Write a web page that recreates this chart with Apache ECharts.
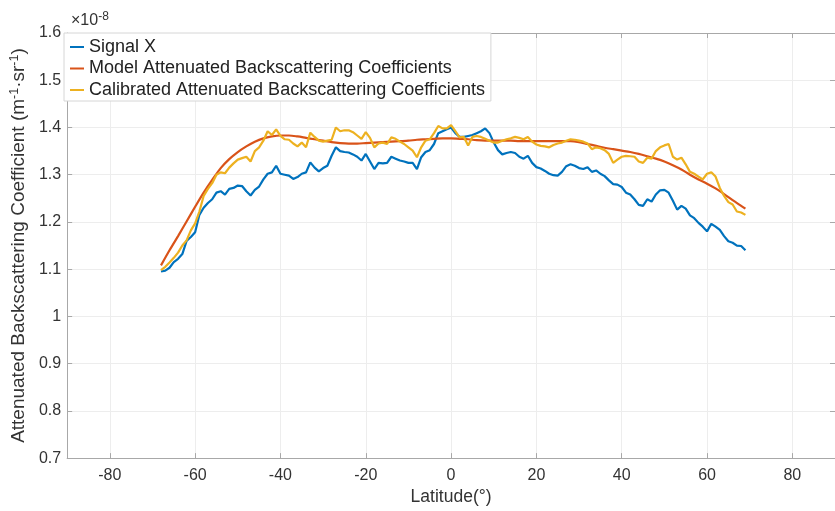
<!DOCTYPE html>
<html><head><meta charset="utf-8">
<script src="https://cdn.jsdelivr.net/npm/echarts@6/dist/echarts.min.js"></script>
<style>html,body{margin:0;padding:0;background:#fff}#c{width:835px;height:511px}</style>
</head><body><div id="c"></div>
<script>
const latitudes = [-68,-67,-66,-65,-64,-63,-62,-61,-60,-59,-58,-57,-56,-55,-54,-53,-52,-51,-50,-49,-48,-47,-46,-45,-44,-43,-42,-41,-40,-39,-38,-37,-36,-35,-34,-33,-32,-31,-30,-29,-28,-27,-26,-25,-24,-23,-22,-21,-20,-19,-18,-17,-16,-15,-14,-13,-12,-11,-10,-9,-8,-7,-6,-5,-4,-3,-2,-1,0,1,2,3,4,5,6,7,8,9,10,11,12,13,14,15,16,17,18,19,20,21,22,23,24,25,26,27,28,29,30,31,32,33,34,35,36,37,38,39,40,41,42,43,44,45,46,47,48,49,50,51,52,53,54,55,56,57,58,59,60,61,62,63,64,65,66,67,68,69];
const signalX = [1.095,1.097,1.103,1.115,1.122,1.132,1.160,1.168,1.178,1.215,1.230,1.240,1.248,1.262,1.265,1.258,1.270,1.272,1.277,1.276,1.265,1.256,1.268,1.275,1.290,1.302,1.305,1.319,1.302,1.300,1.298,1.291,1.295,1.302,1.305,1.326,1.315,1.307,1.314,1.319,1.340,1.358,1.350,1.348,1.347,1.343,1.338,1.330,1.344,1.328,1.312,1.325,1.324,1.325,1.338,1.334,1.330,1.328,1.325,1.325,1.312,1.337,1.348,1.352,1.365,1.388,1.392,1.396,1.400,1.388,1.380,1.380,1.382,1.384,1.388,1.392,1.398,1.388,1.368,1.352,1.343,1.346,1.348,1.346,1.338,1.334,1.340,1.325,1.316,1.313,1.308,1.302,1.299,1.298,1.306,1.318,1.322,1.319,1.314,1.312,1.316,1.306,1.309,1.302,1.297,1.288,1.280,1.279,1.274,1.262,1.258,1.248,1.236,1.234,1.248,1.243,1.258,1.267,1.268,1.262,1.245,1.226,1.234,1.228,1.214,1.208,1.198,1.190,1.180,1.196,1.190,1.183,1.170,1.159,1.156,1.150,1.149,1.140];
const calibrated = [1.098,1.105,1.114,1.124,1.135,1.150,1.161,1.182,1.197,1.222,1.255,1.270,1.282,1.300,1.305,1.303,1.315,1.324,1.332,1.335,1.338,1.328,1.350,1.358,1.372,1.392,1.384,1.396,1.382,1.375,1.374,1.366,1.360,1.368,1.358,1.389,1.380,1.372,1.370,1.372,1.374,1.400,1.392,1.394,1.394,1.390,1.383,1.376,1.390,1.378,1.358,1.366,1.368,1.365,1.379,1.376,1.370,1.365,1.358,1.351,1.337,1.358,1.372,1.375,1.388,1.403,1.398,1.398,1.405,1.392,1.379,1.380,1.362,1.380,1.382,1.380,1.376,1.372,1.368,1.368,1.372,1.375,1.377,1.380,1.378,1.375,1.380,1.370,1.364,1.361,1.360,1.358,1.363,1.366,1.368,1.372,1.375,1.374,1.372,1.370,1.366,1.354,1.358,1.356,1.352,1.344,1.325,1.332,1.338,1.340,1.339,1.338,1.328,1.325,1.336,1.334,1.350,1.358,1.362,1.365,1.338,1.332,1.336,1.322,1.306,1.302,1.296,1.290,1.302,1.305,1.296,1.272,1.255,1.242,1.237,1.222,1.220,1.215];
const modelLat = [-68,-66,-64,-62,-60,-58,-56,-54,-52,-50,-48,-46,-44,-42,-40,-38,-36,-34,-32,-30,-28,-26,-24,-22,-20,-18,-16,-14,-12,-10,-8,-6,-4,-2,0,2,4,6,8,10,12,14,16,18,20,22,24,26,28,30,32,34,36,38,40,42,44,46,48,50,52,54,56,58,60,62,64,66,68,69];
const modelVal = [1.108,1.140,1.170,1.201,1.232,1.262,1.289,1.314,1.333,1.348,1.360,1.370,1.377,1.381,1.383,1.383,1.381,1.378,1.375,1.372,1.369,1.367,1.366,1.366,1.367,1.368,1.369,1.370,1.371,1.372,1.374,1.375,1.376,1.377,1.377,1.376,1.375,1.373,1.372,1.372,1.372,1.372,1.371,1.371,1.371,1.371,1.371,1.371,1.371,1.369,1.365,1.361,1.357,1.354,1.351,1.348,1.344,1.339,1.334,1.328,1.320,1.311,1.300,1.290,1.281,1.271,1.259,1.246,1.234,1.228];
const xTicks = [-80,-60,-40,-20,0,20,40,60,80];
const seriesNames = ['Signal X','Model Attenuated Backscattering Coefficients','Calibrated Attenuated Backscattering Coefficients'];
const colors = ['#0072BD','#D95319','#EDB120'];

const FONT = 'Liberation Sans, Arial, Helvetica, sans-serif';
const AX = '#a8a8a8';
const chart = echarts.init(document.getElementById('c'), null, {renderer:'canvas'});
const pair = (xs, ys) => xs.map((x,i)=>[x, ys[i]]);
chart.setOption({
  animation:false,
  backgroundColor:'#fff',
  textStyle:{fontFamily:FONT},
  title:{
    text:'×10{s|-8}', left:66, top:6,
    textStyle:{fontSize:16, fontWeight:'normal', color:'#333', fontFamily:FONT,
      rich:{s:{fontSize:12, verticalAlign:'top', color:'#333', fontFamily:FONT, padding:[0,0,8,0]}}}
  },
  grid:{left:64, right:-5, top:33, bottom:49, containLabel:false},
  legend:{
    orient:'vertical', left:64, top:33, data:seriesNames,
    icon:'rect', itemWidth:14, itemHeight:2,
    backgroundColor:'#fff', borderColor:'#d6d6d6', borderWidth:1,
    padding:[5,6,2,6], itemGap:3.5,
    textStyle:{fontSize:18, color:'#222', fontFamily:FONT, lineHeight:18}
  },
  xAxis:[{
    type:'value', min:-90, max:90, position:'bottom',
    name:'Latitude(°)', nameLocation:'middle', nameGap:26,
    nameTextStyle:{fontSize:17.5, color:'#333', fontFamily:FONT},
    axisLine:{show:true, onZero:false, lineStyle:{color:AX, width:1}},
    axisTick:{show:true, inside:true, length:5, customValues:xTicks, lineStyle:{color:AX}},
    axisLabel:{customValues:xTicks, fontSize:16, color:'#333', margin:9, fontFamily:FONT},
    splitLine:{show:true, lineStyle:{color:'#ededed', width:1}}
  },{
    type:'value', min:-90, max:90, position:'top',
    axisLine:{show:true, onZero:false, lineStyle:{color:AX, width:1}},
    axisTick:{show:true, inside:true, length:5, customValues:xTicks, lineStyle:{color:AX}},
    axisLabel:{show:false}, splitLine:{show:false}
  }],
  yAxis:[{
    type:'value', min:0.7, max:1.6, interval:0.1, position:'left',
    name:'Attenuated Backscattering Coefficient (m{s|-1}·sr{s|-1})',
    nameLocation:'middle', nameGap:30, nameRotate:90,
    nameTextStyle:{fontSize:19, color:'#333', fontFamily:FONT,
      rich:{s:{fontSize:12.5, color:'#333', fontFamily:FONT, verticalAlign:'top', padding:[0,0,8,0]}}},
    axisLine:{show:true, onZero:false, lineStyle:{color:AX, width:1}},
    axisTick:{show:true, inside:true, length:5, lineStyle:{color:AX}},
    axisLabel:{fontSize:16, color:'#333', margin:6, fontFamily:FONT,
      formatter:v=>String(Math.round(v*10)/10)},
    splitLine:{show:true, lineStyle:{color:'#ededed', width:1}}
  },{
    type:'value', min:0.7, max:1.6, interval:0.1, position:'right',
    axisLine:{show:true, onZero:false, lineStyle:{color:AX, width:1}},
    axisTick:{show:true, inside:true, length:5, lineStyle:{color:AX}},
    axisLabel:{show:false}, splitLine:{show:false}
  }],
  series:[
    {name:seriesNames[0], type:'line', data:pair(latitudes, signalX), symbol:'none', showSymbol:false,
     lineStyle:{color:colors[0], width:2.2}, itemStyle:{color:colors[0]}},
    {name:seriesNames[1], type:'line', data:pair(modelLat, modelVal), symbol:'none', showSymbol:false, smooth:0.3,
     lineStyle:{color:colors[1], width:2.2}, itemStyle:{color:colors[1]}},
    {name:seriesNames[2], type:'line', data:pair(latitudes, calibrated), symbol:'none', showSymbol:false,
     lineStyle:{color:colors[2], width:2.2}, itemStyle:{color:colors[2]}}
  ]
});
</script></body></html>
